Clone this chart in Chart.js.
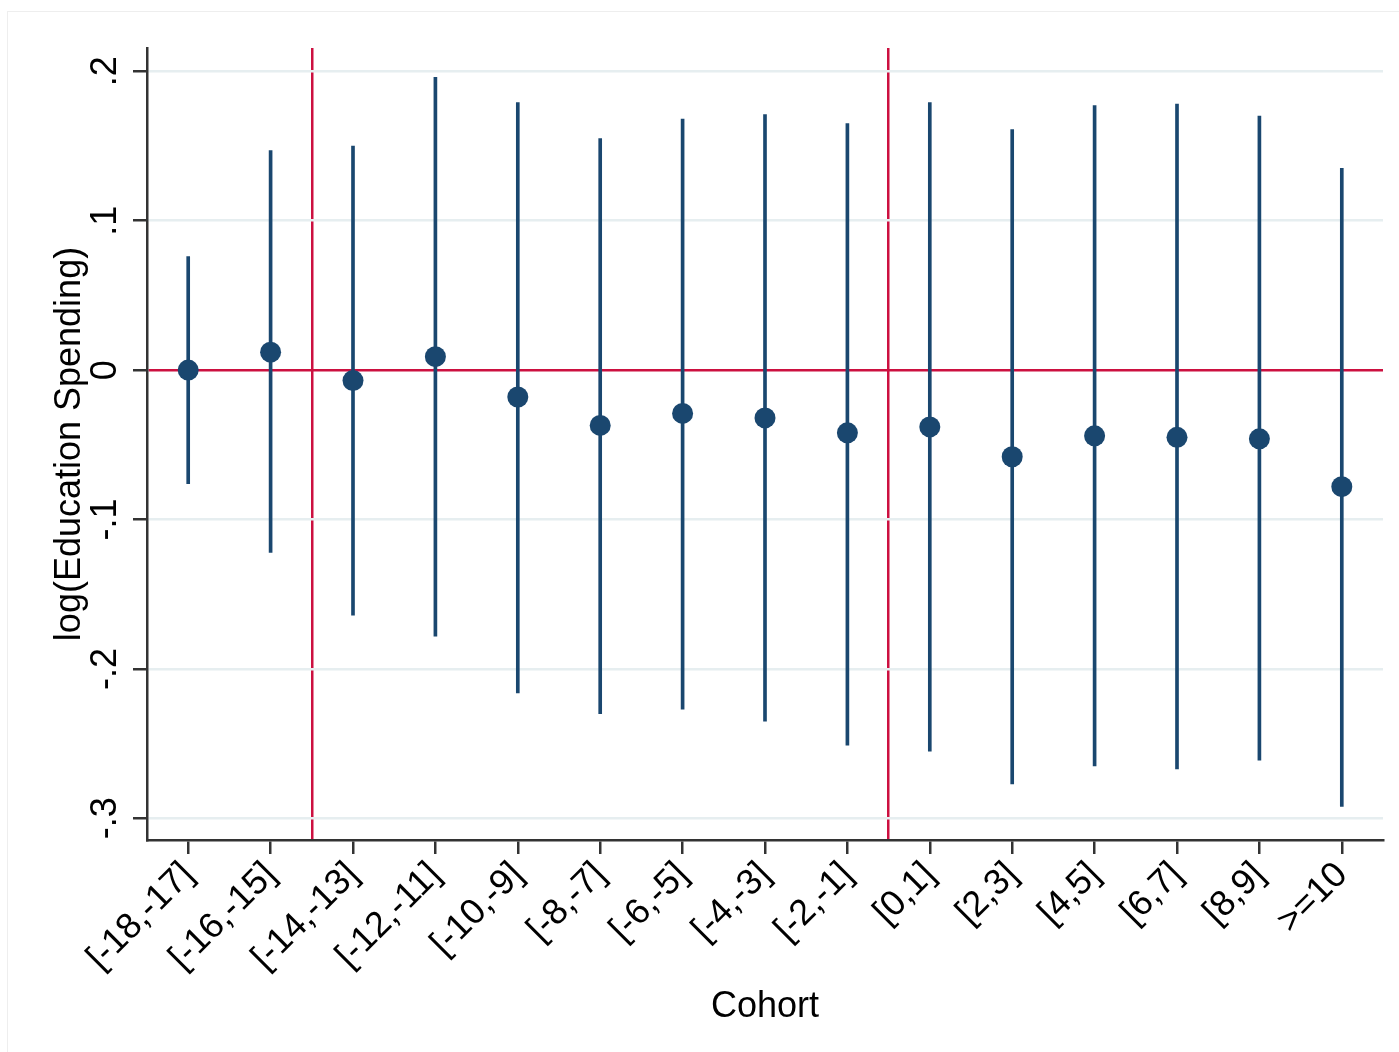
<!DOCTYPE html>
<html>
<head>
<meta charset="utf-8">
<script src="https://cdn.jsdelivr.net/npm/chart.js@4.4.1/dist/chart.umd.min.js"></script>
<style>
  html, body { margin: 0; padding: 0; background: #fff; }
  #frame { position: absolute; left: 7px; top: 11px; width: 1400px; height: 1050px;
           border-left: 1px solid #eeeeee; border-top: 1px solid #eeeeee; }
  #chart { position: absolute; left: 0; top: 0; }
</style>
</head>
<body>
<div id="frame"></div>
<canvas id="chart" width="1399" height="1052"></canvas>
<script>
// cohort bins along the x axis
const cohorts = ['[-18,-17]', '[-16,-15]', '[-14,-13]', '[-12,-11]', '[-10,-9]', '[-8,-7]', '[-6,-5]',
                 '[-4,-3]', '[-2,-1]', '[0,1]', '[2,3]', '[4,5]', '[6,7]', '[8,9]', '>=10'];
// point estimates and confidence bounds, log(Education Spending)
const coef   = [0.000, 0.012, -0.007, 0.009, -0.018, -0.037, -0.029, -0.032, -0.042, -0.038, -0.058, -0.044, -0.045, -0.046, -0.078];
const ciLow  = [-0.076, -0.122, -0.164, -0.178, -0.216, -0.230, -0.227, -0.235, -0.251, -0.255, -0.277, -0.265, -0.267, -0.261, -0.292];
const ciHigh = [0.076, 0.147, 0.150, 0.196, 0.179, 0.155, 0.168, 0.171, 0.165, 0.179, 0.161, 0.177, 0.178, 0.170, 0.135];
// reference lines (between cohort bins) and y axis ticks
const refLinesX = [1.5, 8.5];
const refLineY = 0;
const yTicks = [-0.3, -0.2, -0.1, 0, 0.1, 0.2];
const yTickLabels = ['-.3', '-.2', '-.1', '0', '.1', '.2'];

const navy = '#1a476f';
const red = '#cc1040';
const axisColor = '#333333';
const gridColor = '#e6eef0';
const clear = 'rgba(0,0,0,0)';
const font = { family: "'Liberation Sans', Arial, sans-serif", size: 36 };

const xIdx = cohorts.map((c, i) => i);
const isRefX = c => !!c.tick && refLinesX.includes(c.tick.value);

const chart = new Chart(document.getElementById('chart').getContext('2d'), {
    data: {
        datasets: [{
            type: 'scatter',
            label: 'estimate',
            data: xIdx.map(i => ({ x: i, y: coef[i] })),
            pointRadius: 10.5,
            pointBackgroundColor: navy,
            pointBorderWidth: 0
        }, {
            type: 'bar',
            label: 'CI',
            data: xIdx.map(i => ({ x: i, y: [ciLow[i], ciHigh[i]] })),
            backgroundColor: navy,
            borderWidth: 0,
            barThickness: 3,
            borderSkipped: false
        }]
    },
    options: {
        responsive: false,
        animation: false,
        devicePixelRatio: 1,
        layout: { padding: { top: 48, right: 16, bottom: 0, left: 0 } },
        plugins: { legend: { display: false }, tooltip: { enabled: false } },
        scales: {
            x: {
                type: 'linear',
                min: -0.5,
                max: 14.5,
                offset: false,
                afterBuildTicks: s => {
                    s.ticks = xIdx.concat(refLinesX).sort((a, b) => a - b).map(v => ({ value: v }));
                },
                afterFit: s => { s.height = 212; },
                grid: {
                    offset: false,
                    color: c => isRefX(c) ? red : clear,
                    lineWidth: 2.5,
                    tickColor: c => isRefX(c) ? clear : axisColor,
                    tickWidth: 2.5,
                    tickLength: 14
                },
                border: { color: axisColor, width: 2.5 },
                ticks: {
                    autoSkip: false,
                    minRotation: 45,
                    maxRotation: 45,
                    padding: 0,
                    color: '#000',
                    font: font,
                    callback: v => Number.isInteger(v) ? cohorts[v] : ''
                },
                title: { display: true, text: 'Cohort', color: '#000', font: font, padding: { top: 0, bottom: 23 } }
            },
            y: {
                min: -0.3145,
                max: 0.2156,
                afterBuildTicks: s => { s.ticks = yTicks.map(v => ({ value: v })); },
                afterFit: s => { s.width = 147; },
                grid: {
                    color: c => (c.tick && c.tick.value === refLineY) ? red : gridColor,
                    lineWidth: 2.5,
                    tickColor: axisColor,
                    tickWidth: 2.5,
                    tickLength: 14
                },
                border: { color: axisColor, width: 2.5 },
                ticks: {
                    minRotation: 90,
                    maxRotation: 90,
                    crossAlign: 'center',
                    padding: 6,
                    color: '#000',
                    font: font,
                    callback: v => yTickLabels[yTicks.indexOf(v)]
                },
                title: { display: true, text: 'log(Education Spending)', color: '#000', font: font, padding: { top: 48, bottom: 0 } }
            }
        }
    }
});
</script>
</body>
</html>
